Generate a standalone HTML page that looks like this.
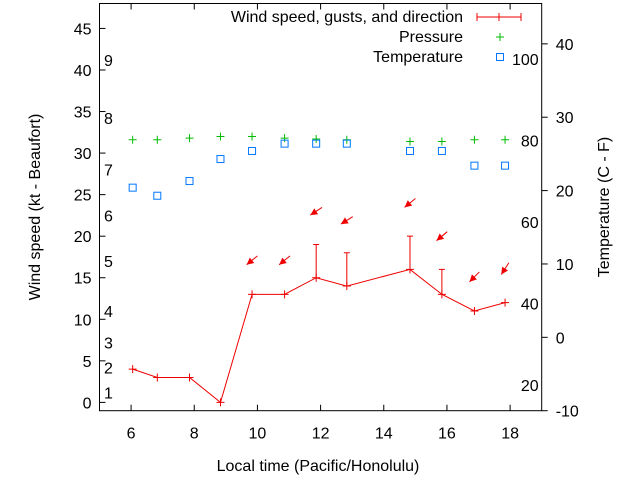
<!DOCTYPE html>
<html><head><meta charset="utf-8"><style>
html,body{margin:0;padding:0;background:#fff;}
svg{display:block;font-family:"Liberation Sans",sans-serif;}
</style></head><body>
<svg id="chart" width="640" height="480" xmlns="http://www.w3.org/2000/svg">
<g id="axes"></g>
<g id="marks"></g>
<text x="40" y="207" font-size="16" text-anchor="middle" transform="rotate(-90 40 207)">Wind speed (kt - Beaufort)</text>
<text x="609" y="207" font-size="16" text-anchor="middle" transform="rotate(-90 609 207)">Temperature (C - F)</text>
<text x="318" y="471" font-size="16" text-anchor="middle">Local time (Pacific/Honolulu)</text>
<g font-size="16">
<text x="463" y="22" text-anchor="end">Wind speed, gusts, and direction</text>
<g stroke="#e00" stroke-width="1">
<line x1="477" y1="17" x2="521" y2="17"/><line x1="477" y1="13" x2="477" y2="21"/><line x1="521" y1="13" x2="521" y2="21"/><line x1="499" y1="13" x2="499" y2="21"/></g>
<text x="463" y="42" text-anchor="end">Pressure</text>
<g stroke="#0b0"><line x1="496" y1="37" x2="504" y2="37"/><line x1="500" y1="33" x2="500" y2="41"/></g>
<text x="463" y="62" text-anchor="end">Temperature</text>
<rect x="496.5" y="53.5" width="7" height="7" fill="none" stroke="#07f"/>
</g>
</svg>
<script>
const hours=[6.05,6.83,7.85,8.83,9.83,10.86,11.86,12.83,14.83,15.84,16.87,17.84];
const windKt=[4,3,3,0,13,13,15,14,16,13,11,12];
const gustKt=[null,null,null,null,null,null,19,18,20,16,null,null];
const arrowHours=[9.83,10.86,11.86,12.83,14.83,15.84,16.87,17.84];
const arrowKt=[17.1,17.1,23.0,21.9,24.0,20.0,15.1,16.1];
const arrowDirDeg=[51,51,57,58,51,50,45,33];
const pressurePlot=[31.6,31.6,31.8,32,32,31.8,31.7,31.6,31.4,31.4,31.6,31.6];
const tempC=[20.4,19.3,21.3,24.3,25.4,26.4,26.4,26.4,25.4,25.4,23.4,23.4];
const xTicks=[6,8,10,12,14,16,18];
const yTicks=[0,5,10,15,20,25,30,35,40,45];
const y2Ticks=[-10,0,10,20,30,40];
const fTicks=[20,40,60,80,100];
const beaufortLabels=[1,2,3,4,5,6,7,8,9];
const beaufortKt=[1.2,4.2,7.2,11,17,22.5,28,34.2,41.2];

const L=99.5,R=541.7,T=3.5,B=410.7;
const X=v=>L+(v-5)/(19-5)*(R-L);
const Y=v=>B-(v+1)/(48+1)*(B-T);
const Y2=c=>B-(c+10)/(45.5+10)*(B-T);
const NS='http://www.w3.org/2000/svg';
function mk(p,tag,a){const e=document.createElementNS(NS,tag);for(const k in a)e.setAttribute(k,a[k]);p.appendChild(e);return e;}
const ax=document.getElementById('axes'),mg=document.getElementById('marks');
const frame=mk(ax,'rect',{x:L,y:T,width:R-L,height:B-T,fill:'none',stroke:'#000','stroke-width':1});


xTicks.forEach(v=>{
  const x=X(v);
  const t=mk(ax,'path',{d:`M${x},${B}v-6M${x},${T}v6`,stroke:'#000'});
  
  
  const l=mk(ax,'text',{x:x,y:B+28,'font-size':16,'text-anchor':'middle'});l.textContent=v;
  
  
});
yTicks.forEach(v=>{
  const y=Y(v);
  const t=mk(ax,'path',{d:`M${L},${y}h6`,stroke:'#000'});
  
  
  const l=mk(ax,'text',{x:L-8,y:y+6,'font-size':16,'text-anchor':'end'});l.textContent=v;
  
  
});
y2Ticks.forEach(v=>{
  const y=Y2(v);
  const t=mk(ax,'path',{d:`M${R},${y}h6`,stroke:'#000'});
  
  
  const l=mk(ax,'text',{x:R+14,y:y+6,'font-size':16,'text-anchor':'start'});l.textContent=v;
  
  
});
fTicks.forEach(f=>{
  const c=(f-32)*5/9;
  const l=mk(ax,'text',{x:R-3,y:Y2(c)+5,'font-size':16,'text-anchor':'end'});l.textContent=f;
  
  
});
beaufortLabels.forEach((b,i)=>{
  const l=mk(ax,'text',{x:104,y:Y(beaufortKt[i])+6,'font-size':16});l.textContent=b;
  
  
});
hours.forEach((h,i)=>{
  const x=X(h),y=Y(pressurePlot[i]);
  const p=mk(mg,'path',{d:`M${x-4},${y}h8M${x},${y-4}v8`,stroke:'#0b0'});
  
  
});
hours.forEach((h,i)=>{
  const x=X(h),y=Y2(tempC[i]);
  const r=mk(mg,'rect',{x:x-3.5,y:y-3.5,width:7,height:7,fill:'none',stroke:'#07f'});
  
  
});
const line=mk(mg,'polyline',{points:hours.map((h,i)=>X(h)+','+Y(windKt[i])).join(' '),fill:'none',stroke:'#e00'});


hours.forEach((h,i)=>{
  const x=X(h),y=Y(windKt[i]);
  const p=mk(mg,'path',{d:`M${x-4},${y}h8M${x},${y-4}v8`,stroke:'#e00'});
  
  
  if(gustKt[i]!=null){
    const g=Y(gustKt[i]);
    const e=mk(mg,'path',{d:`M${x},${y}V${g}M${x-3},${g}h6`,stroke:'#e00'});
    
    
  }
});
arrowHours.forEach((h,i)=>{
  const cx=X(h),cy=Y(arrowKt[i]),a=arrowDirDeg[i]*Math.PI/180,len=14;
  const sx=Math.sin(a),sy=-Math.cos(a);
  const tx=cx+sx*len/2,ty=cy+sy*len/2;
  const x=cx-sx*len/2,y=cy-sy*len/2;
  const ux=-sx,uy=-sy,px=-uy,py=ux;
  const bx=x-ux*7,by=y-uy*7;
  const g=mk(mg,'g',{});
  
  
  mk(g,'line',{x1:tx,y1:ty,x2:x,y2:y,stroke:'#e00'});
  mk(g,'polygon',{points:`${x},${y} ${bx+px*3.5},${by+py*3.5} ${bx-px*3.5},${by-py*3.5}`,fill:'#e00'});
});
</script>
</body></html>
